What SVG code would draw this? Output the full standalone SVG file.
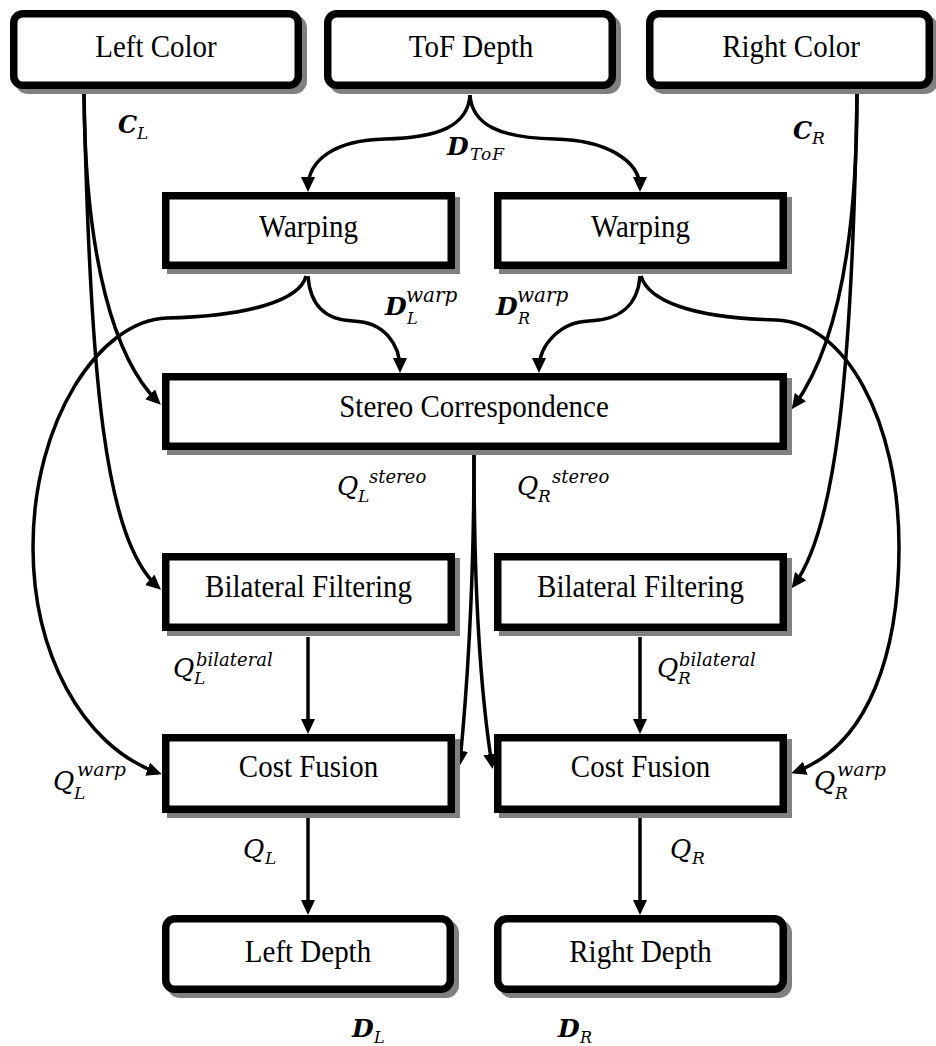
<svg xmlns="http://www.w3.org/2000/svg" width="936" height="1046" viewBox="0 0 936 1046">
  <style>
    .box { fill: #fff; stroke: #000; stroke-width: 7.5; }
    .shadow { fill: #808080; }
    .lbl { font-family: "Liberation Serif", "Times New Roman", serif; font-size: 29px; text-anchor: middle; fill: #000; }
    .wire { fill: none; stroke: #000; stroke-width: 3.5; marker-end: url(#ah); }
    .m { font-family: "DejaVu Serif", "Liberation Serif", serif; font-style: italic; fill: #000; }
    .mb { font-family: "DejaVu Serif", "Liberation Serif", serif; font-style: italic; font-weight: bold; fill: #000; }
  </style>
  <defs>
    <marker id="ah" markerUnits="userSpaceOnUse" markerWidth="16" markerHeight="14" refX="11" refY="7" orient="auto">
      <path d="M0,0 L15,7 L0,14 z" fill="#000"/>
    </marker>
  </defs>
  <rect width="936" height="1046" fill="#fff"/>

  <!-- connectors (drawn first so the boxes sit on top) -->
  <g id="connectors">
    <!-- ToF depth to both warping blocks -->
    <path class="wire" d="M470,95 C468,125 440,138 385,139 C335,140 308,160 308,188"/>
    <path class="wire" d="M470,95 C472,125 500,138 555,139 C605,140 640,160 640,188"/>
    <!-- left color feeds -->
    <path class="wire" d="M84,94 C85,260 115,360 158,402"/>
    <path class="wire" d="M84,94 C90,380 105,540 158,587"/>
    <!-- right color feeds -->
    <path class="wire" d="M857,94 C857,250 835,350 794,406"/>
    <path class="wire" d="M857,94 C852,380 835,530 794,585"/>
    <!-- warped depth into stereo -->
    <path class="wire" d="M308,276 C310,305 325,320 353,321 C385,322 400,345 400,369"/>
    <path class="wire" d="M640,276 C638,305 620,320 589,321 C560,322 539,345 539,369"/>
    <!-- warped depth loops into cost fusion -->
    <path class="wire" d="M306,276 C300,300 250,316 167,318 C100,320 33,420 33,547 C33,650 80,745 158,773"/>
    <path class="wire" d="M641,276 C648,300 690,318 776,320 C845,322 899,420 899,547 C899,650 870,745 795,772"/>
    <!-- stereo costs into cost fusion -->
    <path class="wire" d="M474,455 C474,580 467,690 460,762"/>
    <path class="wire" d="M474,455 C474,580 480,690 492,765"/>
    <!-- bilateral to cost fusion -->
    <path class="wire" d="M308,637 L308,730"/>
    <path class="wire" d="M640,637 L640,730"/>
    <!-- cost fusion to depth outputs -->
    <path class="wire" d="M308,818 L308,911"/>
    <path class="wire" d="M640,818 L640,911"/>
  </g>

  <!-- nodes -->
  <g id="left-color">
    <rect class="shadow" x="15" y="15" width="292" height="79" rx="13"/>
    <rect class="box" x="13.75" y="13.75" width="284.5" height="71.5" rx="9"/>
    <text class="lbl" transform="translate(156 57) scale(1 1.12)">Left Color</text>
  </g>
  <g id="tof-depth">
    <rect class="shadow" x="329" y="15" width="292" height="79" rx="13"/>
    <rect class="box" x="327.75" y="13.75" width="284.5" height="71.5" rx="9"/>
    <text class="lbl" transform="translate(471 57) scale(1 1.12)">ToF Depth</text>
  </g>
  <g id="right-color">
    <rect class="shadow" x="651" y="15" width="287" height="79" rx="13"/>
    <rect class="box" x="649.75" y="13.75" width="279.5" height="71.5" rx="9"/>
    <text class="lbl" transform="translate(791 57) scale(1 1.12)">Right Color</text>
  </g>
  <g id="warping-left">
    <rect class="shadow" x="167" y="197" width="293" height="77"/>
    <rect class="box" x="165.75" y="195.75" width="285.5" height="69.5"/>
    <text class="lbl" transform="translate(308.5 237) scale(1 1.12)">Warping</text>
  </g>
  <g id="warping-right">
    <rect class="shadow" x="499" y="197" width="293" height="77"/>
    <rect class="box" x="497.75" y="195.75" width="285.5" height="69.5"/>
    <text class="lbl" transform="translate(640.5 237) scale(1 1.12)">Warping</text>
  </g>
  <g id="stereo">
    <rect class="shadow" x="167" y="378" width="625" height="77"/>
    <rect class="box" x="165.75" y="376.75" width="617.5" height="69.5"/>
    <text class="lbl" transform="translate(474 417) scale(1 1.12)">Stereo Correspondence</text>
  </g>
  <g id="bilateral-left">
    <rect class="shadow" x="167" y="558" width="293" height="78"/>
    <rect class="box" x="165.75" y="556.75" width="285.5" height="70.5"/>
    <text class="lbl" transform="translate(308.5 597) scale(1 1.12)">Bilateral Filtering</text>
  </g>
  <g id="bilateral-right">
    <rect class="shadow" x="499" y="558" width="293" height="78"/>
    <rect class="box" x="497.75" y="556.75" width="285.5" height="70.5"/>
    <text class="lbl" transform="translate(640.5 597) scale(1 1.12)">Bilateral Filtering</text>
  </g>
  <g id="cost-fusion-left">
    <rect class="shadow" x="167" y="739" width="293" height="79"/>
    <rect class="box" x="165.75" y="737.75" width="285.5" height="71.5"/>
    <text class="lbl" transform="translate(308.5 777) scale(1 1.12)">Cost Fusion</text>
  </g>
  <g id="cost-fusion-right">
    <rect class="shadow" x="499" y="739" width="293" height="79"/>
    <rect class="box" x="497.75" y="737.75" width="285.5" height="71.5"/>
    <text class="lbl" transform="translate(640.5 777) scale(1 1.12)">Cost Fusion</text>
  </g>
  <g id="left-depth">
    <rect class="shadow" x="167" y="920" width="292" height="78" rx="13"/>
    <rect class="box" x="165.75" y="918.75" width="284.5" height="70.5" rx="9"/>
    <text class="lbl" transform="translate(308 962) scale(1 1.12)">Left Depth</text>
  </g>
  <g id="right-depth">
    <rect class="shadow" x="499" y="920" width="293" height="78" rx="13"/>
    <rect class="box" x="497.75" y="918.75" width="285.5" height="70.5" rx="9"/>
    <text class="lbl" transform="translate(640.5 962) scale(1 1.12)">Right Depth</text>
  </g>

  <!-- signal labels -->
  <g id="labels">
    <text class="mb" font-size="24"><tspan x="118" y="133">C</tspan></text>
    <text class="m" font-size="17"><tspan x="137" y="139">L</tspan></text>

    <text class="mb" font-size="25"><tspan x="447" y="155">D</tspan></text>
    <text class="m" font-size="17" letter-spacing="1"><tspan x="470" y="160">ToF</tspan></text>

    <text class="mb" font-size="24"><tspan x="793" y="139">C</tspan></text>
    <text class="m" font-size="17"><tspan x="812" y="144">R</tspan></text>

    <text class="mb" font-size="25"><tspan x="385" y="315">D</tspan></text>
    <text class="m" font-size="20"><tspan x="406" y="302">warp</tspan></text>
    <text class="m" font-size="16"><tspan x="407" y="324">L</tspan></text>

    <text class="mb" font-size="25"><tspan x="496" y="315">D</tspan></text>
    <text class="m" font-size="20"><tspan x="517" y="302">warp</tspan></text>
    <text class="m" font-size="16"><tspan x="518" y="324">R</tspan></text>

    <text class="m" font-size="26"><tspan x="337" y="495">Q</tspan></text>
    <text class="m" font-size="18"><tspan x="369" y="483">stereo</tspan></text>
    <text class="m" font-size="17"><tspan x="358" y="502">L</tspan></text>

    <text class="m" font-size="26"><tspan x="517" y="495">Q</tspan></text>
    <text class="m" font-size="18"><tspan x="552" y="483">stereo</tspan></text>
    <text class="m" font-size="17"><tspan x="538" y="502">R</tspan></text>

    <text class="m" font-size="26"><tspan x="173" y="677">Q</tspan></text>
    <text class="m" font-size="18"><tspan x="196" y="666">bilateral</tspan></text>
    <text class="m" font-size="17"><tspan x="194" y="684">L</tspan></text>

    <text class="m" font-size="26"><tspan x="657" y="677">Q</tspan></text>
    <text class="m" font-size="18"><tspan x="679" y="666">bilateral</tspan></text>
    <text class="m" font-size="17"><tspan x="678" y="684">R</tspan></text>

    <text class="m" font-size="26"><tspan x="53" y="790">Q</tspan></text>
    <text class="m" font-size="19"><tspan x="77" y="776">warp</tspan></text>
    <text class="m" font-size="17"><tspan x="74" y="799">L</tspan></text>

    <text class="m" font-size="26"><tspan x="814" y="790">Q</tspan></text>
    <text class="m" font-size="19"><tspan x="837" y="776">warp</tspan></text>
    <text class="m" font-size="17"><tspan x="835" y="799">R</tspan></text>

    <text class="m" font-size="26"><tspan x="243" y="858">Q</tspan></text>
    <text class="m" font-size="17"><tspan x="265" y="864">L</tspan></text>

    <text class="m" font-size="26"><tspan x="670" y="858">Q</tspan></text>
    <text class="m" font-size="17"><tspan x="692" y="864">R</tspan></text>

    <text class="mb" font-size="25"><tspan x="352" y="1037">D</tspan></text>
    <text class="m" font-size="16"><tspan x="374" y="1043">L</tspan></text>

    <text class="mb" font-size="25"><tspan x="558" y="1037">D</tspan></text>
    <text class="m" font-size="16"><tspan x="580" y="1043">R</tspan></text>
  </g>
</svg>
